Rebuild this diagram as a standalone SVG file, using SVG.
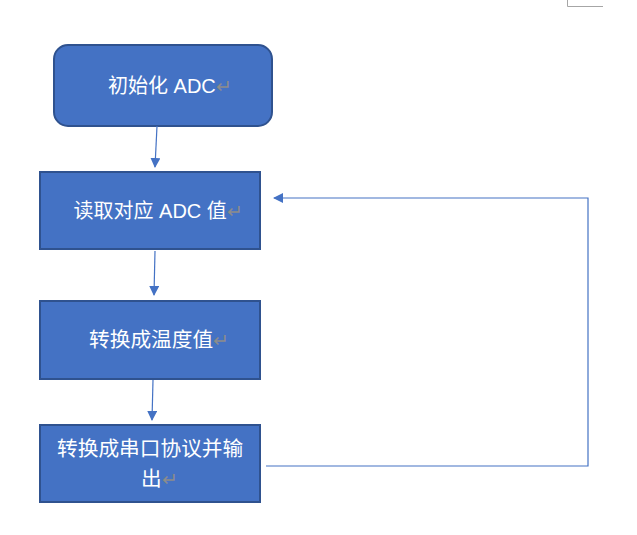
<svg xmlns="http://www.w3.org/2000/svg" width="637" height="535" viewBox="0 0 637 535">
<defs>
<style>
.box{fill:#4472C4;stroke:#2F528F;stroke-width:2}
.t{font-family:"Liberation Sans","Noto Sans CJK SC",sans-serif;font-size:20px;fill:#FFFFFF}
.w{font-size:20.7px}
.r{fill:#8C8C8C;font-size:19px}
.c{fill:none;stroke:#4472C4;stroke-width:1.2}
</style>
<marker id="ah" viewBox="0 0 10 10" refX="9" refY="5" markerWidth="10" markerHeight="10" markerUnits="userSpaceOnUse" orient="auto">
<path d="M0,0 L10,5 L0,10 Z" fill="#4472C4"/>
</marker>
</defs>
<rect width="637" height="535" fill="#FFFFFF"/>
<path d="M567.5,0 V6.5 H603" fill="none" stroke="#A6A6A6" stroke-width="1"/>
<g id="node1">
<rect class="box" x="54" y="45" width="218" height="81" rx="14"/>
<text class="t" x="108" y="93">初始化 ADC<tspan class="r">↵</tspan></text>
</g>
<g id="node2">
<rect class="box" x="40" y="172" width="220" height="77"/>
<text class="t" x="73.5" y="218">读取对应 ADC 值<tspan class="r">↵</tspan></text>
</g>
<g id="node3">
<rect class="box" x="40" y="301" width="220" height="78"/>
<text class="t w" x="89" y="347">转换成温度值<tspan class="r">↵</tspan></text>
</g>
<g id="node4">
<rect class="box" x="40" y="425" width="220" height="77"/>
<text class="t w" x="57" y="456">转换成串口协议并输</text>
<text class="t w" x="141" y="486">出<tspan class="r">↵</tspan></text>
</g>
<g id="connectors">
<path class="c" d="M157,126 L155,167" marker-end="url(#ah)"/>
<path class="c" d="M155,251 L154,295" marker-end="url(#ah)"/>
<path class="c" d="M153,380 L152,420" marker-end="url(#ah)"/>
<path class="c" d="M266,466 H588 V198 H274" marker-end="url(#ah)"/>
</g>
</svg>
